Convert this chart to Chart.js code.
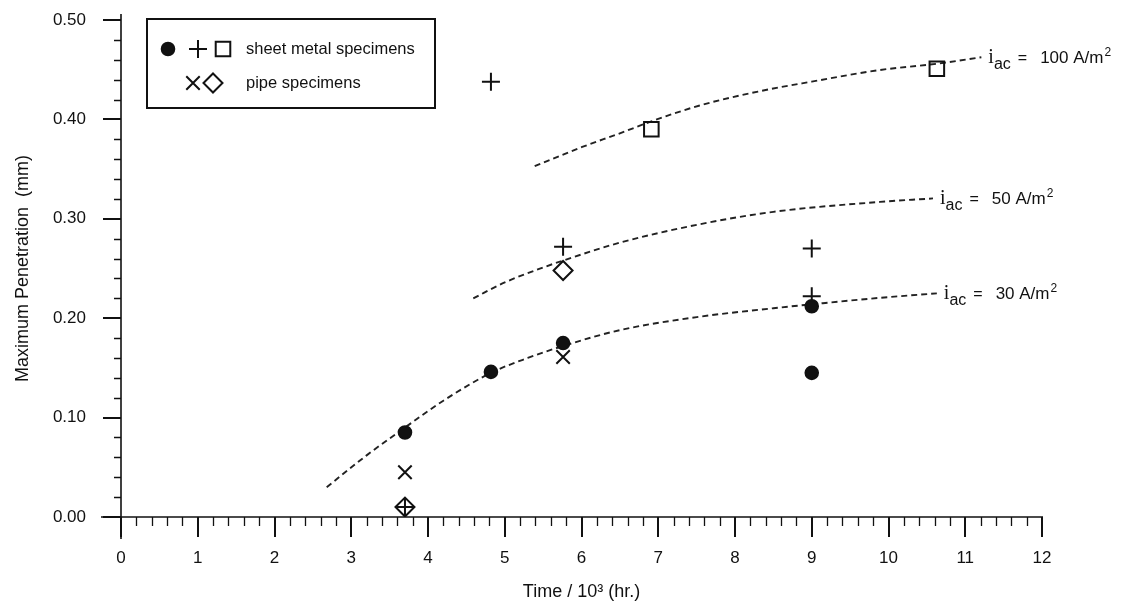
<!DOCTYPE html>
<html>
<head>
<meta charset="utf-8">
<script src="https://cdn.jsdelivr.net/npm/chart.js@4.4.0/dist/chart.umd.min.js"></script>
<style>
  html, body { margin: 0; padding: 0; background: #fff; }
  canvas { display: block; }
</style>
</head>
<body>
<canvas id="penChart" width="1122" height="605"></canvas>
<script>
// measured points: time in 10^3 hr, max penetration in mm
const sheetCircleX = [3.70, 4.82, 5.76, 9.00, 9.00];
const sheetCircleY = [0.085, 0.146, 0.175, 0.212, 0.145];
const sheetPlusX = [3.70, 4.82, 5.76, 9.00, 9.00];
const sheetPlusY = [0.010, 0.438, 0.272, 0.270, 0.222];
const sheetSquareX = [6.91, 10.63];
const sheetSquareY = [0.390, 0.451];
const pipeCrossX = [3.70, 5.76];
const pipeCrossY = [0.045, 0.161];
const pipeDiamondX = [3.70, 5.76];
const pipeDiamondY = [0.010, 0.248];

// dashed trend curves
const curve30X = [2.68, 3.20, 3.70, 4.20, 4.82, 5.30, 5.76, 6.50, 7.54, 8.50, 9.00, 9.89, 10.63];
const curve30Y = [0.030, 0.062, 0.090, 0.117, 0.145, 0.160, 0.172, 0.188, 0.2015, 0.210, 0.214, 0.2205, 0.225];
const curve50X = [4.59, 5.00, 5.50, 5.76, 6.50, 7.54, 8.50, 9.89, 10.58];
const curve50Y = [0.220, 0.236, 0.251, 0.258, 0.276, 0.2945, 0.307, 0.317, 0.3205];
const curve100X = [5.39, 6.00, 6.50, 6.91, 7.54, 8.30, 9.00, 9.89, 10.63, 11.21];
const curve100Y = [0.353, 0.372, 0.386, 0.398, 0.414, 0.428, 0.438, 0.4497, 0.456, 0.4625];
const curveCurrents = ['100', '50', '30'];

const xTicks = [0, 1, 2, 3, 4, 5, 6, 7, 8, 9, 10, 11, 12];
const yTicks = [0, 0.1, 0.2, 0.3, 0.4, 0.5];

const FONT = "'Liberation Sans', Arial, Helvetica, sans-serif";
const INK = '#111';

const pts = (xs, ys) => xs.map((x, i) => ({ x: x, y: ys[i] }));

function curveSet(xs, ys, cur) {
  return {
    label: 'i_ac = ' + cur + ' A/m2',
    data: pts(xs, ys),
    showLine: true,
    borderColor: '#222',
    borderWidth: 1.9,
    borderDash: [6, 4],
    pointRadius: 0,
    tension: 0.4,
    cubicInterpolationMode: 'monotone',
    isCurve: true,
    current: cur
  };
}

function markerSet(label, xs, ys, style, r, filled) {
  return {
    label: label,
    data: pts(xs, ys),
    pointStyle: style,
    pointRadius: r,
    pointBorderWidth: 2,
    pointBorderColor: INK,
    pointBackgroundColor: filled ? INK : 'rgba(0,0,0,0)',
    showLine: false
  };
}

// axes with outward major/minor ticks, like the printed figure
const axesPlugin = {
  id: 'paperAxes',
  beforeDatasetsDraw(chart) {
    const { ctx, scales: { x, y } } = chart;
    const x0 = x.getPixelForValue(0), xEnd = x.getPixelForValue(12);
    const y0 = y.getPixelForValue(0), yTop = y.getPixelForValue(0.5);
    ctx.save();
    ctx.strokeStyle = INK;
    ctx.lineWidth = 1.6;
    ctx.beginPath();
    ctx.moveTo(x0, yTop - 6); ctx.lineTo(x0, y0 + 22);
    ctx.moveTo(x0 - 20, y0); ctx.lineTo(xEnd + 1, y0);
    ctx.stroke();
    // minor
    ctx.lineWidth = 1.3;
    ctx.beginPath();
    for (let i = 0; i <= 25; i++) {
      if (i % 5 === 0) continue;
      const py = Math.round(y.getPixelForValue(i * 0.02)) + 0.5;
      ctx.moveTo(x0 - 7, py); ctx.lineTo(x0, py);
    }
    for (let i = 0; i <= 60; i++) {
      if (i % 5 === 0) continue;
      const px = Math.round(x.getPixelForValue(i * 0.2)) + 0.5;
      ctx.moveTo(px, y0); ctx.lineTo(px, y0 + 9);
    }
    ctx.stroke();
    // major
    ctx.lineWidth = 2;
    ctx.beginPath();
    yTicks.forEach(v => {
      const py = Math.round(y.getPixelForValue(v));
      ctx.moveTo(x0 - 18, py); ctx.lineTo(x0, py);
    });
    xTicks.forEach(v => {
      const px = Math.round(x.getPixelForValue(v));
      ctx.moveTo(px, y0); ctx.lineTo(px, y0 + 20);
    });
    ctx.stroke();
    ctx.restore();
  }
};

// "i_ac = NN A/m^2" beside the end of each dashed curve
const curveLabelPlugin = {
  id: 'curveLabels',
  afterDatasetsDraw(chart) {
    const ctx = chart.ctx;
    ctx.save();
    ctx.fillStyle = INK;
    ctx.textBaseline = 'alphabetic';
    chart.data.datasets.forEach((ds, i) => {
      if (!ds.isCurve) return;
      const els = chart.getDatasetMeta(i).data;
      const last = els[els.length - 1];
      let tx = last.x + 7;
      const base = last.y + 6;
      ctx.font = "20px 'Liberation Serif', 'Times New Roman', serif";
      ctx.fillText('i', tx, base);
      tx += ctx.measureText('i').width;
      ctx.font = '16px ' + FONT;
      ctx.fillText('ac', tx, base + 6);
      tx += ctx.measureText('ac').width + 7;
      ctx.fillText('=', tx, base);
      tx += ctx.measureText('=').width + 13;
      ctx.font = '17px ' + FONT;
      const val = ds.current + ' A/m';
      ctx.fillText(val, tx, base);
      tx += ctx.measureText(val).width;
      ctx.font = '12px ' + FONT;
      ctx.fillText('2', tx + 1, base - 7);
    });
    ctx.restore();
  }
};

// boxed key in the upper left
const keyPlugin = {
  id: 'paperKey',
  afterDraw(chart) {
    const { ctx, chartArea: ca } = chart;
    const bx = ca.left + 26, by = ca.top - 1, bw = 288, bh = 89;
    ctx.save();
    ctx.fillStyle = '#fff';
    ctx.fillRect(bx, by, bw, bh);
    ctx.strokeStyle = INK;
    ctx.lineWidth = 2;
    ctx.strokeRect(bx, by, bw, bh);
    const draw = (style, r, x, y, fill) => {
      ctx.fillStyle = fill ? INK : 'rgba(0,0,0,0)';
      ctx.strokeStyle = INK;
      ctx.lineWidth = 2;
      Chart.helpers.drawPoint(ctx, { pointStyle: style, radius: r, rotation: 0, borderWidth: 2 }, x, y);
    };
    const r1 = by + 30, r2 = by + 64;
    draw('circle', 6.3, bx + 21, r1, true);
    draw('cross', 9, bx + 51, r1, false);
    draw('rect', 10.3, bx + 76, r1, false);
    draw('crossRot', 9.5, bx + 46, r2, false);
    draw('rectRot', 9.5, bx + 66, r2, false);
    ctx.fillStyle = INK;
    ctx.font = '16.5px ' + FONT;
    ctx.textBaseline = 'middle';
    ctx.fillText('sheet metal specimens', bx + 99, r1);
    ctx.fillText('pipe specimens', bx + 99, r2);
    ctx.restore();
  }
};

new Chart(document.getElementById('penChart').getContext('2d'), {
  type: 'scatter',
  data: {
    datasets: [
      markerSet('sheet metal (circle)', sheetCircleX, sheetCircleY, 'circle', 6.3, true),
      markerSet('sheet metal (plus)', sheetPlusX, sheetPlusY, 'cross', 9, false),
      markerSet('sheet metal (square)', sheetSquareX, sheetSquareY, 'rect', 10.3, false),
      markerSet('pipe (x)', pipeCrossX, pipeCrossY, 'crossRot', 9.5, false),
      markerSet('pipe (diamond)', pipeDiamondX, pipeDiamondY, 'rectRot', 9.5, false),
      curveSet(curve100X, curve100Y, curveCurrents[0]),
      curveSet(curve50X, curve50Y, curveCurrents[1]),
      curveSet(curve30X, curve30Y, curveCurrents[2])
    ]
  },
  options: {
    responsive: false,
    animation: false,
    layout: { padding: { top: 20, right: 80, left: 0, bottom: 0 } },
    plugins: {
      legend: { display: false },
      tooltip: { enabled: false }
    },
    scales: {
      x: {
        type: 'linear',
        min: 0,
        max: 12,
        // invisible tick marks only push the labels away from the axis
        grid: { display: false, drawTicks: true, tickLength: 31 },
        border: { display: false },
        afterBuildTicks: s => { s.ticks = xTicks.map(v => ({ value: v })); },
        afterFit: s => { s.height = 88; },
        ticks: { padding: 0, color: INK, maxRotation: 0, font: { family: FONT, size: 17 } },
        title: {
          display: true,
          text: 'Time / 10³ (hr.)',
          color: INK,
          font: { family: FONT, size: 18 },
          padding: { top: 0, bottom: 2 }
        }
      },
      y: {
        type: 'linear',
        min: 0,
        max: 0.5,
        grid: { display: false, drawTicks: true, tickLength: 35 },
        border: { display: false },
        afterBuildTicks: s => { s.ticks = yTicks.map(v => ({ value: v })); },
        afterFit: s => { s.width = 121; },
        ticks: { padding: 0, color: INK, font: { family: FONT, size: 17 }, callback: v => v.toFixed(2) },
        title: {
          display: true,
          text: 'Maximum Penetration  (mm)',
          color: INK,
          font: { family: FONT, size: 18 },
          padding: { top: 12, bottom: 0 }
        }
      }
    }
  },
  plugins: [axesPlugin, curveLabelPlugin, keyPlugin]
});
</script>
</body>
</html>
